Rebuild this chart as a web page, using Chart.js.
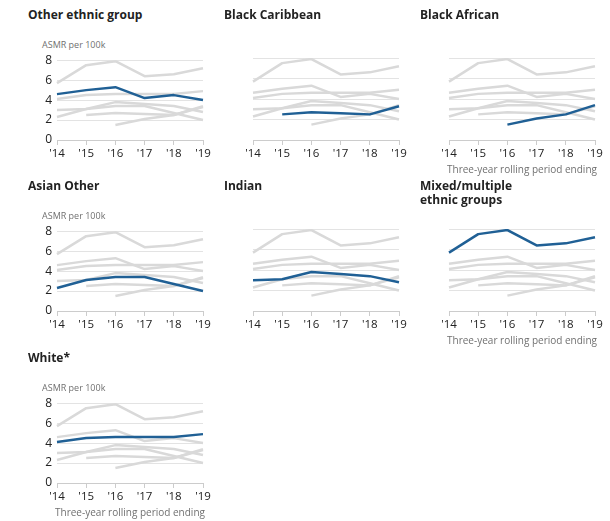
<!DOCTYPE html>
<html>
<head>
<meta charset="utf-8">
<script src="https://cdn.jsdelivr.net/npm/chart.js@4"></script>
<style>
  body { margin: 0; background: #fff; font-family: 'Open Sans', sans-serif; }
  #wrap { position: relative; width: 610px; height: 521px; overflow: hidden; }
  .panel { position: absolute; width: 217px; height: 178px; }
  .panel h3 { position: absolute; left: 28px; top: 8px; margin: 0; font-size: 12px; line-height: 14px; font-weight: 700; color: #222; }
  .panel .ylab { position: absolute; left: 42px; top: 38px; font-size: 9px; color: #707070; }
  .panel canvas { position: absolute; left: 0; top: 48px; }
  .panel .xlab { position: absolute; left: 20px; width: 220px; top: 162px; text-align: center; font-size: 10px; color: #707070; white-space: nowrap; }
</style>
</head>
<body>
<div id="wrap"></div>
<script>
// three-year rolling ASMR per 100k, periods ending '14 .. '19
const years = ["'14", "'15", "'16", "'17", "'18", "'19"];

const otherEthnic    = [4.6, 5.0, 5.3, 4.2, 4.5, 4.0];
const blackCaribbean = [null, 2.5, 2.7, 2.6, 2.5, 3.3];
const blackAfrican   = [null, null, 1.5, 2.1, 2.5, 3.4];
const asianOther     = [2.3, 3.1, 3.4, 3.4, 2.7, 2.0];
const indian         = [3.0, 3.1, 3.8, 3.6, 3.4, 2.8];
const mixed          = [5.7, 7.5, 7.9, 6.4, 6.6, 7.2];
const white          = [4.1, 4.5, 4.6, 4.6, 4.6, 4.9];

const groups = [
    { title: 'Other ethnic group', data: otherEthnic },
    { title: 'Black Caribbean', data: blackCaribbean },
    { title: 'Black African', data: blackAfrican, footer: true },
    { title: 'Asian Other', data: asianOther },
    { title: 'Indian', data: indian },
    { title: 'Mixed/multiple<br>ethnic groups', data: mixed, footer: true },
    { title: 'White*', data: white, footer: true }
];

const yTicks = [0, 2, 4, 6, 8];

const BLUE = '#206095';
const GREY = '#d9d9d9';

Chart.defaults.font.family = "'Open Sans', sans-serif";
Chart.defaults.animation = false;

function $(selector)
{
    return document.querySelector(selector);
}

function make_panel(i)
{
    const g = groups[i];
    const col = i % 3, row = Math.floor(i / 3);

    const div = document.createElement('div');
    div.className = 'panel';
    div.style.left = (col * 196) + 'px';
    div.style.top = [0, 171, 343][row] + 'px';

    let html = `<h3>${g.title}</h3>`;
    if (col == 0) html += '<div class="ylab">ASMR per 100k</div>';
    html += '<canvas width="217" height="117"></canvas>';
    if (g.footer) html += '<div class="xlab">Three-year rolling period ending</div>';
    div.innerHTML = html;
    $('#wrap').appendChild(div);

    // every other group in grey underneath, this one in blue on top
    const datasets = groups
        .filter(o => o !== g)
        .map(o => ({ data: o.data, borderColor: GREY, borderWidth: 2.5, pointRadius: 0, order: 2 }));
    datasets.push({ data: g.data, borderColor: BLUE, borderWidth: 2.5, pointRadius: 0, order: 1 });

    const canvas = div.querySelector('canvas');
    canvas.style.width = '217px';
    canvas.style.height = '117px';

    new Chart(canvas, {
        type: 'line',
        data: { labels: years, datasets: datasets },
        options: {
            responsive: false,
            devicePixelRatio: 1,
            layout: { padding: { top: 10, right: 14, left: 0, bottom: 0 } },
            plugins: { legend: { display: false }, tooltip: { enabled: false } },
            elements: { line: { tension: 0, borderCapStyle: 'butt', borderJoinStyle: 'round' } },
            scales: {
                x: {
                    offset: false,
                    grid: { drawOnChartArea: false, drawTicks: true, tickLength: 5, color: '#cccccc' },
                    border: { display: true, color: '#cccccc' },
                    ticks: { color: '#222', font: { size: 11.5 }, padding: 2, maxRotation: 0, autoSkip: false },
                    afterFit: s => { s.height = 25; }
                },
                y: {
                    min: 0,
                    max: 8,
                    afterBuildTicks: s => { s.ticks = yTicks.map(v => ({ value: v })); },
                    grid: { drawTicks: false, color: '#e3e3e3' },
                    border: { display: false },
                    ticks: { display: col == 0, color: '#222', font: { size: 12 }, padding: 5 },
                    afterFit: s => { s.width = 57; }
                }
            }
        }
    });
}

for (let i = 0; i < groups.length; i++) make_panel(i);
</script>
</body>
</html>
